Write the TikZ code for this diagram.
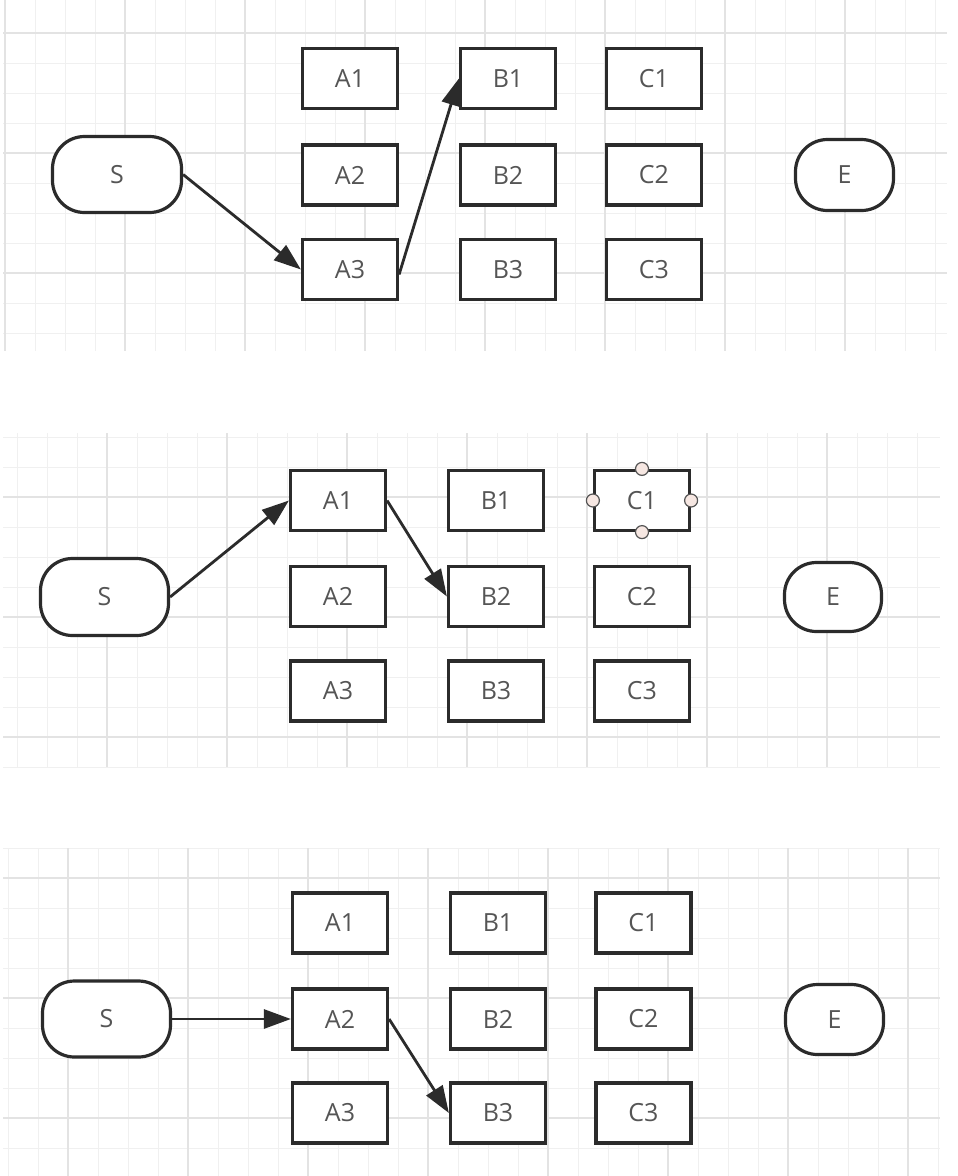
\documentclass[tikz,border=0pt]{standalone}
\usepackage{fontspec}
\setmainfont{Open Sans}
\usetikzlibrary{arrows.meta}
\definecolor{ink}{HTML}{2B2B2B}
\definecolor{label}{HTML}{555555}
\definecolor{minorgrid}{HTML}{F0F0F0}
\definecolor{majorgrid}{HTML}{E3E3E3}
\definecolor{handle}{HTML}{F6E7E2}
\begin{document}
\begin{tikzpicture}[x=1pt,y=-1pt,
  box/.style={draw=ink,line width=3.2pt,fill=white,minimum width=95pt,
    minimum height=60pt,inner sep=0pt,text=label,font=\fontsize{25}{28}\selectfont},
  term/.style={box,rounded corners=32pt},
  flow/.style={draw=ink,line width=2.8pt,-{Triangle[length=27pt,width=19pt]}},
  knob/.style={circle,draw=label,fill=handle,line width=1.2pt,minimum size=13pt,inner sep=0pt},
  minor/.style={draw=minorgrid,line width=1pt},
  major/.style={draw=majorgrid,line width=1.1pt}]

\useasboundingbox (0,0) rectangle (958,1176);
\fill[white] (0,0) rectangle (958,1176);

% ---------- grid backgrounds ----------
\begin{scope}
  \clip (3,0) rectangle (947,351);
  \foreach \x in {5,35,...,947} \draw[minor] (\x,0) -- (\x,351);
  \foreach \y in {33,63,...,351} \draw[minor] (3,\y) -- (947,\y);
  \foreach \x in {5,125,...,947} \draw[major] (\x,0) -- (\x,351);
  \foreach \y in {33,153,273} \draw[major] (3,\y) -- (947,\y);
\end{scope}
\begin{scope}
  \clip (3,433) rectangle (940,767);
  \foreach \x in {17,47,...,940} \draw[minor] (\x,433) -- (\x,767);
  \foreach \y in {437,467,...,767} \draw[minor] (3,\y) -- (940,\y);
  \foreach \x in {107,227,...,940} \draw[major] (\x,433) -- (\x,767);
  \foreach \y in {497,617,737} \draw[major] (3,\y) -- (940,\y);
\end{scope}
\begin{scope}
  \clip (3,848) rectangle (940,1176);
  \foreach \x in {8,38,...,940} \draw[minor] (\x,848) -- (\x,1176);
  \foreach \y in {848,878,...,1176} \draw[minor] (3,\y) -- (940,\y);
  \foreach \x in {68,188,...,940} \draw[major] (\x,848) -- (\x,1176);
  \foreach \y in {878,998,1118} \draw[major] (3,\y) -- (940,\y);
\end{scope}

% ---------- panel 1: S -> A3 -> B1 ----------
\node[term,minimum width=129pt,minimum height=76pt] (s1) at (117,174.5) {S};
\node[box] (a11) at (350,78.5) {A1};
\node[box] (a21) at (350,175) {A2};
\node[box] (a31) at (350,269.5) {A3};
\node[box] (b11) at (508,78.5) {B1};
\node[box] (b21) at (508,175) {B2};
\node[box] (b31) at (508,269.5) {B3};
\node[box] (c11) at (654,78.5) {C1};
\node[box] (c21) at (654,175) {C2};
\node[box] (c31) at (654,269.5) {C3};
\node[term,minimum width=98pt,minimum height=71pt] (e1) at (844.5,175) {E};
\draw[flow] (s1.east) -- (a31.west);
\draw[flow] ([yshift=-5pt]a31.east) -- (b11.west);

% ---------- panel 2: S -> A1 -> B2 ----------
\node[term,minimum width=128pt,minimum height=77pt] (s2) at (104.5,597) {S};
\node[box] (a12) at (338,500.5) {A1};
\node[box] (a22) at (338,596.5) {A2};
\node[box] (a32) at (338,691) {A3};
\node[box] (b12) at (496,500.5) {B1};
\node[box] (b22) at (496,596.5) {B2};
\node[box] (b32) at (496,691) {B3};
\node[box] (c12) at (642,500.5) {C1};
\node[box] (c22) at (642,596.5) {C2};
\node[box] (c32) at (642,691) {C3};
\node[term,minimum width=97pt,minimum height=69pt] (e2) at (833,597) {E};
\draw[flow] (s2.east) -- (a12.west);
\draw[flow] (a12.east) -- (b22.west);
% connection handles of the selected shape
\node[knob] (h1) at (c12.north) {};
\node[knob] (h2) at (c12.south) {};
\node[knob] (h3) at (c12.west) {};
\node[knob] (h4) at (c12.east) {};

% ---------- panel 3: S -> A2 -> B3 ----------
\node[term,minimum width=128pt,minimum height=76pt] (s3) at (106.5,1019) {S};
\node[box] (a13) at (340,923) {A1};
\node[box] (a23) at (340,1019) {A2};
\node[box] (a33) at (340,1113) {A3};
\node[box] (b13) at (498,923) {B1};
\node[box] (b23) at (498,1019) {B2};
\node[box] (b33) at (498,1113) {B3};
\node[box] (c13) at (643.5,923) {C1};
\node[box] (c23) at (643.5,1019) {C2};
\node[box] (c33) at (643.5,1113) {C3};
\node[term,minimum width=98pt,minimum height=70pt] (e3) at (834.5,1019.5) {E};
\draw[flow] (s3.east) -- (a23.west);
\draw[flow] (a23.east) -- (b33.west);
\end{tikzpicture}
\end{document}
